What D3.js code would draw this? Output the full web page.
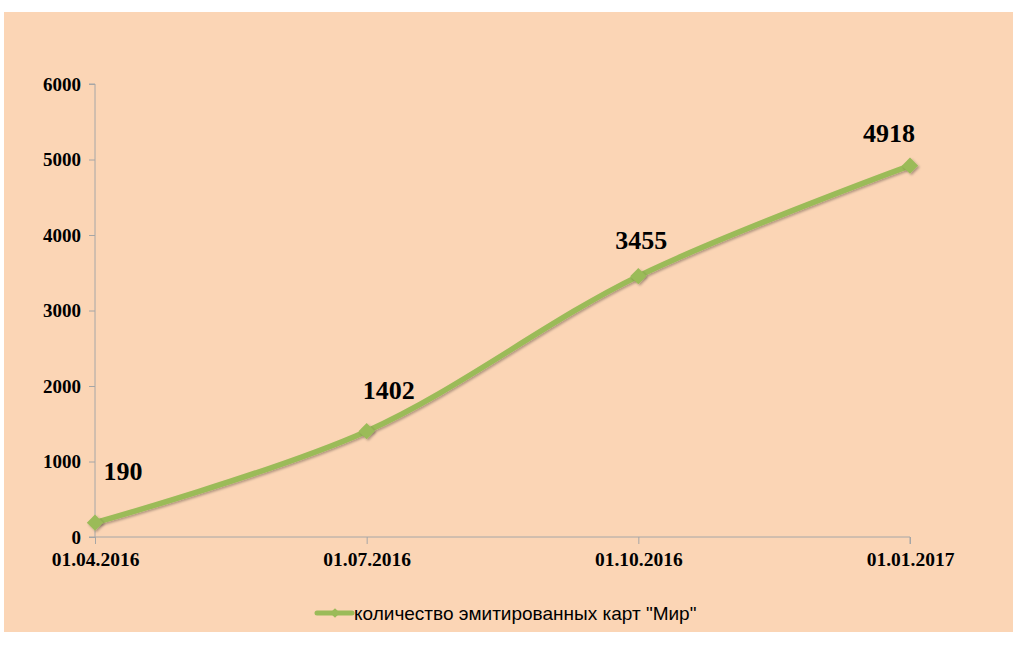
<!DOCTYPE html>
<html><head><meta charset="utf-8">
<script src="https://cdn.jsdelivr.net/npm/d3@7"></script>
<style>html,body{margin:0;padding:0;background:#fff;}</style>
</head><body>
<script>
const categories = ["01.04.2016","01.07.2016","01.10.2016","01.01.2017"];
const values = [190, 1402, 3455, 4918];
const yTicks = [0,1000,2000,3000,4000,5000,6000];
const seriesName = 'количество эмитированных карт "Мир"';
const labelOffsets = [[28,-43],[22,-32],[3,-27],[-21,-24]];

const W = 1016, H = 645;
const svg = d3.select("body").append("svg").attr("width", W).attr("height", H);
const defs = svg.append("defs");
const f = defs.append("filter").attr("id","sh").attr("x","-50%").attr("y","-50%").attr("width","200%").attr("height","200%");
f.append("feDropShadow").attr("dx",1.5).attr("dy",1.5).attr("stdDeviation",1.2).attr("flood-color","#000").attr("flood-opacity",0.3);

svg.append("rect").attr("x",4).attr("y",12).attr("width",1009).attr("height",620).attr("fill","#FBD5B5");

const x = d3.scalePoint().domain(categories).range([95, 910]).padding(0);
const y = d3.scaleLinear().domain([0, 6000]).range([537, 84]);

const axisColor = "#A6A6A6";
const yAxis = svg.append("g").attr("transform","translate(95,0)")
  .call(d3.axisLeft(y).tickValues(yTicks).tickSize(6).tickPadding(8).tickFormat(d3.format("d")));
yAxis.select(".domain").attr("stroke", axisColor).attr("d", `M-6,${y(6000)}H0V${y(0)}`);
yAxis.selectAll(".tick line").attr("stroke", axisColor);
yAxis.selectAll(".tick text").attr("fill","#000").attr("font-family","Liberation Serif").attr("font-weight","bold").attr("font-size","19px");

const xAxis = svg.append("g").attr("transform",`translate(0,${y(0)})`)
  .call(d3.axisBottom(x).tickSize(7).tickPadding(0));
xAxis.select(".domain").attr("stroke", axisColor).attr("d", `M89,0H910V7`);
xAxis.selectAll(".tick line").attr("stroke", axisColor);
xAxis.selectAll(".tick text").attr("fill","#000").attr("font-family","Liberation Serif").attr("font-weight","bold").attr("font-size","19.5px").attr("y",29).attr("dy",0);

const green = "#9BBB59";
const line = d3.line().x((d,i)=>x(categories[i])).y(d=>y(d)).curve(d3.curveCatmullRom.alpha(0.5));
svg.append("path").datum(values).attr("d", line).attr("fill","none").attr("stroke",green).attr("stroke-width",5.5).attr("stroke-linecap","round").attr("filter","url(#sh)");

const diamond = d3.symbol().type(d3.symbolDiamond2).size(170);
svg.selectAll(".mk").data(values).enter().append("path")
  .attr("d", diamond).attr("transform",(d,i)=>`translate(${x(categories[i])},${y(d)})`)
  .attr("fill", green).attr("filter","url(#sh)");

svg.selectAll(".lbl").data(values).enter().append("text")
  .attr("x",(d,i)=>x(categories[i])+labelOffsets[i][0])
  .attr("y",(d,i)=>y(d)+labelOffsets[i][1])
  .attr("text-anchor","middle").attr("font-family","Liberation Serif").attr("font-weight","bold").attr("font-size","26px")
  .text(d=>d);

const lg = svg.append("g");
lg.append("line").attr("x1",317).attr("x2",352).attr("y1",613).attr("y2",613).attr("stroke",green).attr("stroke-width",5).attr("stroke-linecap","round");
lg.append("path").attr("d", d3.symbol().type(d3.symbolDiamond2).size(60)).attr("transform","translate(335,613)").attr("fill",green);
lg.append("text").attr("x",354).attr("y",620).attr("font-family","Liberation Sans").attr("font-size","19px").attr("fill","#000").text(seriesName);
</script>
</body></html>
